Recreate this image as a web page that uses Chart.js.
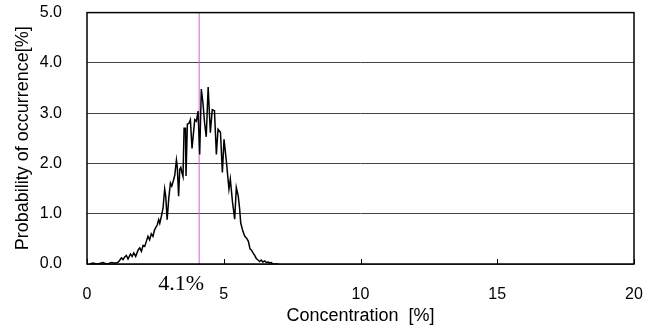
<!DOCTYPE html>
<html>
<head>
<meta charset="utf-8">
<script src="https://cdn.jsdelivr.net/npm/chart.js@4"></script>
<style>
  html, body { margin: 0; padding: 0; background: #fff; }
  #wrap { width: 656px; height: 329px; }
</style>
</head>
<body>
<div id="wrap"><canvas id="distChart" width="656" height="329"></canvas></div>
<script>
// Data
const concentration = [
  0.10, 0.22, 0.35, 0.45, 0.59, 0.70, 0.80, 0.89, 1.00, 1.07,
  1.15, 1.26, 1.32, 1.38, 1.44, 1.50, 1.59, 1.65, 1.71, 1.78,
  1.87, 1.93, 1.99, 2.05, 2.11, 2.17, 2.23, 2.29, 2.35, 2.41,
  2.47, 2.57, 2.62, 2.66, 2.72, 2.78, 2.84, 2.88, 2.93, 2.99,
  3.05, 3.10, 3.15, 3.21, 3.27, 3.30, 3.35, 3.39, 3.43, 3.47,
  3.51, 3.55, 3.60, 3.62, 3.67, 3.73, 3.78, 3.84, 3.88, 3.94,
  4.00, 4.06, 4.12, 4.18, 4.24, 4.30, 4.36, 4.43, 4.51, 4.58,
  4.66, 4.73, 4.79, 4.88, 4.95, 5.01, 5.10, 5.19, 5.24, 5.32,
  5.40, 5.46, 5.53, 5.58, 5.62, 5.70, 5.77, 5.84, 5.90, 5.96,
  6.01, 6.07, 6.13, 6.19, 6.25, 6.31, 6.37, 6.43, 6.50, 6.56,
  6.62, 6.68, 6.74, 6.80, 7.00
];
const probability = [
  0.00, 0.02, 0.00, 0.01, 0.03, 0.00, 0.01, 0.03, 0.02, 0.02,
  0.04, 0.12, 0.09, 0.14, 0.17, 0.10, 0.20, 0.15, 0.22, 0.15,
  0.28, 0.32, 0.25, 0.37, 0.35, 0.45, 0.55, 0.48, 0.60, 0.55,
  0.68, 0.78, 0.88, 0.81, 0.95, 1.11, 1.49, 1.34, 0.88, 1.31,
  1.61, 1.55, 1.64, 1.77, 2.07, 1.94, 1.35, 1.88, 1.92, 1.82,
  1.74, 2.70, 2.70, 1.75, 2.78, 2.80, 2.87, 2.30, 2.53, 2.87,
  2.84, 3.04, 2.18, 3.48, 3.20, 2.80, 2.53, 3.52, 2.61, 3.07,
  3.05, 2.18, 2.68, 2.62, 1.82, 2.48, 2.02, 1.49, 1.69, 1.23,
  0.89, 1.52, 1.35, 1.10, 0.82, 0.65, 0.55, 0.51, 0.45, 0.30,
  0.28, 0.22, 0.17, 0.11, 0.08, 0.05, 0.08, 0.04, 0.06, 0.03,
  0.04, 0.02, 0.03, 0.00, 0.00
];
const markerValue = 4.1;
const xTicks = [0, 5, 10, 15, 20];
const yTicks = [0, 1, 2, 3, 4, 5];

// frame, inner x ticks and the marker label
const framePlugin = {
  id: "frame",
  afterDraw(chart) {
    const { ctx, chartArea: a, scales } = chart;
    ctx.save();
    ctx.strokeStyle = "#000";
    ctx.lineWidth = 1;
    xTicks.forEach(v => {
      const px = Math.round(scales.x.getPixelForValue(v)) + 0.5;
      ctx.beginPath();
      ctx.moveTo(px, a.bottom);
      ctx.lineTo(px, a.bottom - 5);
      ctx.stroke();
    });
    ctx.lineWidth = 1.5;
    ctx.strokeRect(a.left, a.top, a.right - a.left, a.bottom - a.top);
    ctx.fillStyle = "#000";
    ctx.font = "22px 'Liberation Serif', 'Times New Roman', serif";
    ctx.textAlign = "right";
    ctx.textBaseline = "alphabetic";
    ctx.fillText(markerValue.toFixed(1) + "%", scales.x.getPixelForValue(markerValue) + 5, a.bottom + 26);
    ctx.restore();
  }
};

const ctx = document.getElementById("distChart").getContext("2d");
new Chart(ctx, {
  type: "line",
  data: {
    datasets: [
      {
        data: concentration.map((c, i) => ({ x: c, y: probability[i] })),
        borderColor: "#000",
        borderWidth: 1.5,
        pointRadius: 0,
        tension: 0,
        fill: false
      },
      {
        data: [{ x: markerValue, y: 0 }, { x: markerValue, y: 5 }],
        borderColor: "#d060d0",
        borderWidth: 1,
        pointRadius: 0,
        fill: false
      }
    ]
  },
  options: {
    responsive: false,
    animation: false,
    layout: { padding: { left: 0, right: 22, top: 12, bottom: 0 } },
    plugins: { legend: { display: false }, tooltip: { enabled: false } },
    scales: {
      x: {
        type: "linear",
        min: 0,
        max: 20,
        afterBuildTicks: s => { s.ticks = xTicks.map(v => ({ value: v })); },
        afterFit: s => { s.height = 65; },
        grid: { display: true, drawOnChartArea: false, drawTicks: true, tickLength: 18, tickColor: "rgba(0,0,0,0)" },
        border: { display: false },
        ticks: {
          color: "#000",
          padding: 3,
          maxRotation: 0,
          font: { family: "'Liberation Sans', Arial, sans-serif", size: 16 }
        },
        title: {
          display: true,
          text: "Concentration  [%]",
          color: "#000",
          padding: { top: 0, bottom: 2 },
          font: { family: "'Liberation Sans', Arial, sans-serif", size: 18 }
        }
      },
      y: {
        min: 0,
        max: 5,
        afterBuildTicks: s => { s.ticks = yTicks.map(v => ({ value: v })); },
        afterFit: s => { s.width = 87; },
        grid: { color: "#444", lineWidth: 1, drawTicks: true, tickLength: 22, tickColor: "rgba(0,0,0,0)" },
        border: { display: false },
        ticks: {
          color: "#000",
          padding: 3,
          callback: v => v.toFixed(1),
          font: { family: "'Liberation Sans', Arial, sans-serif", size: 16 }
        },
        title: {
          display: true,
          text: "Probability of occurrence[%]",
          color: "#000",
          padding: { top: 12, bottom: 0 },
          font: { family: "'Liberation Sans', Arial, sans-serif", size: 18 }
        }
      }
    }
  },
  plugins: [framePlugin]
});
</script>
</body>
</html>
